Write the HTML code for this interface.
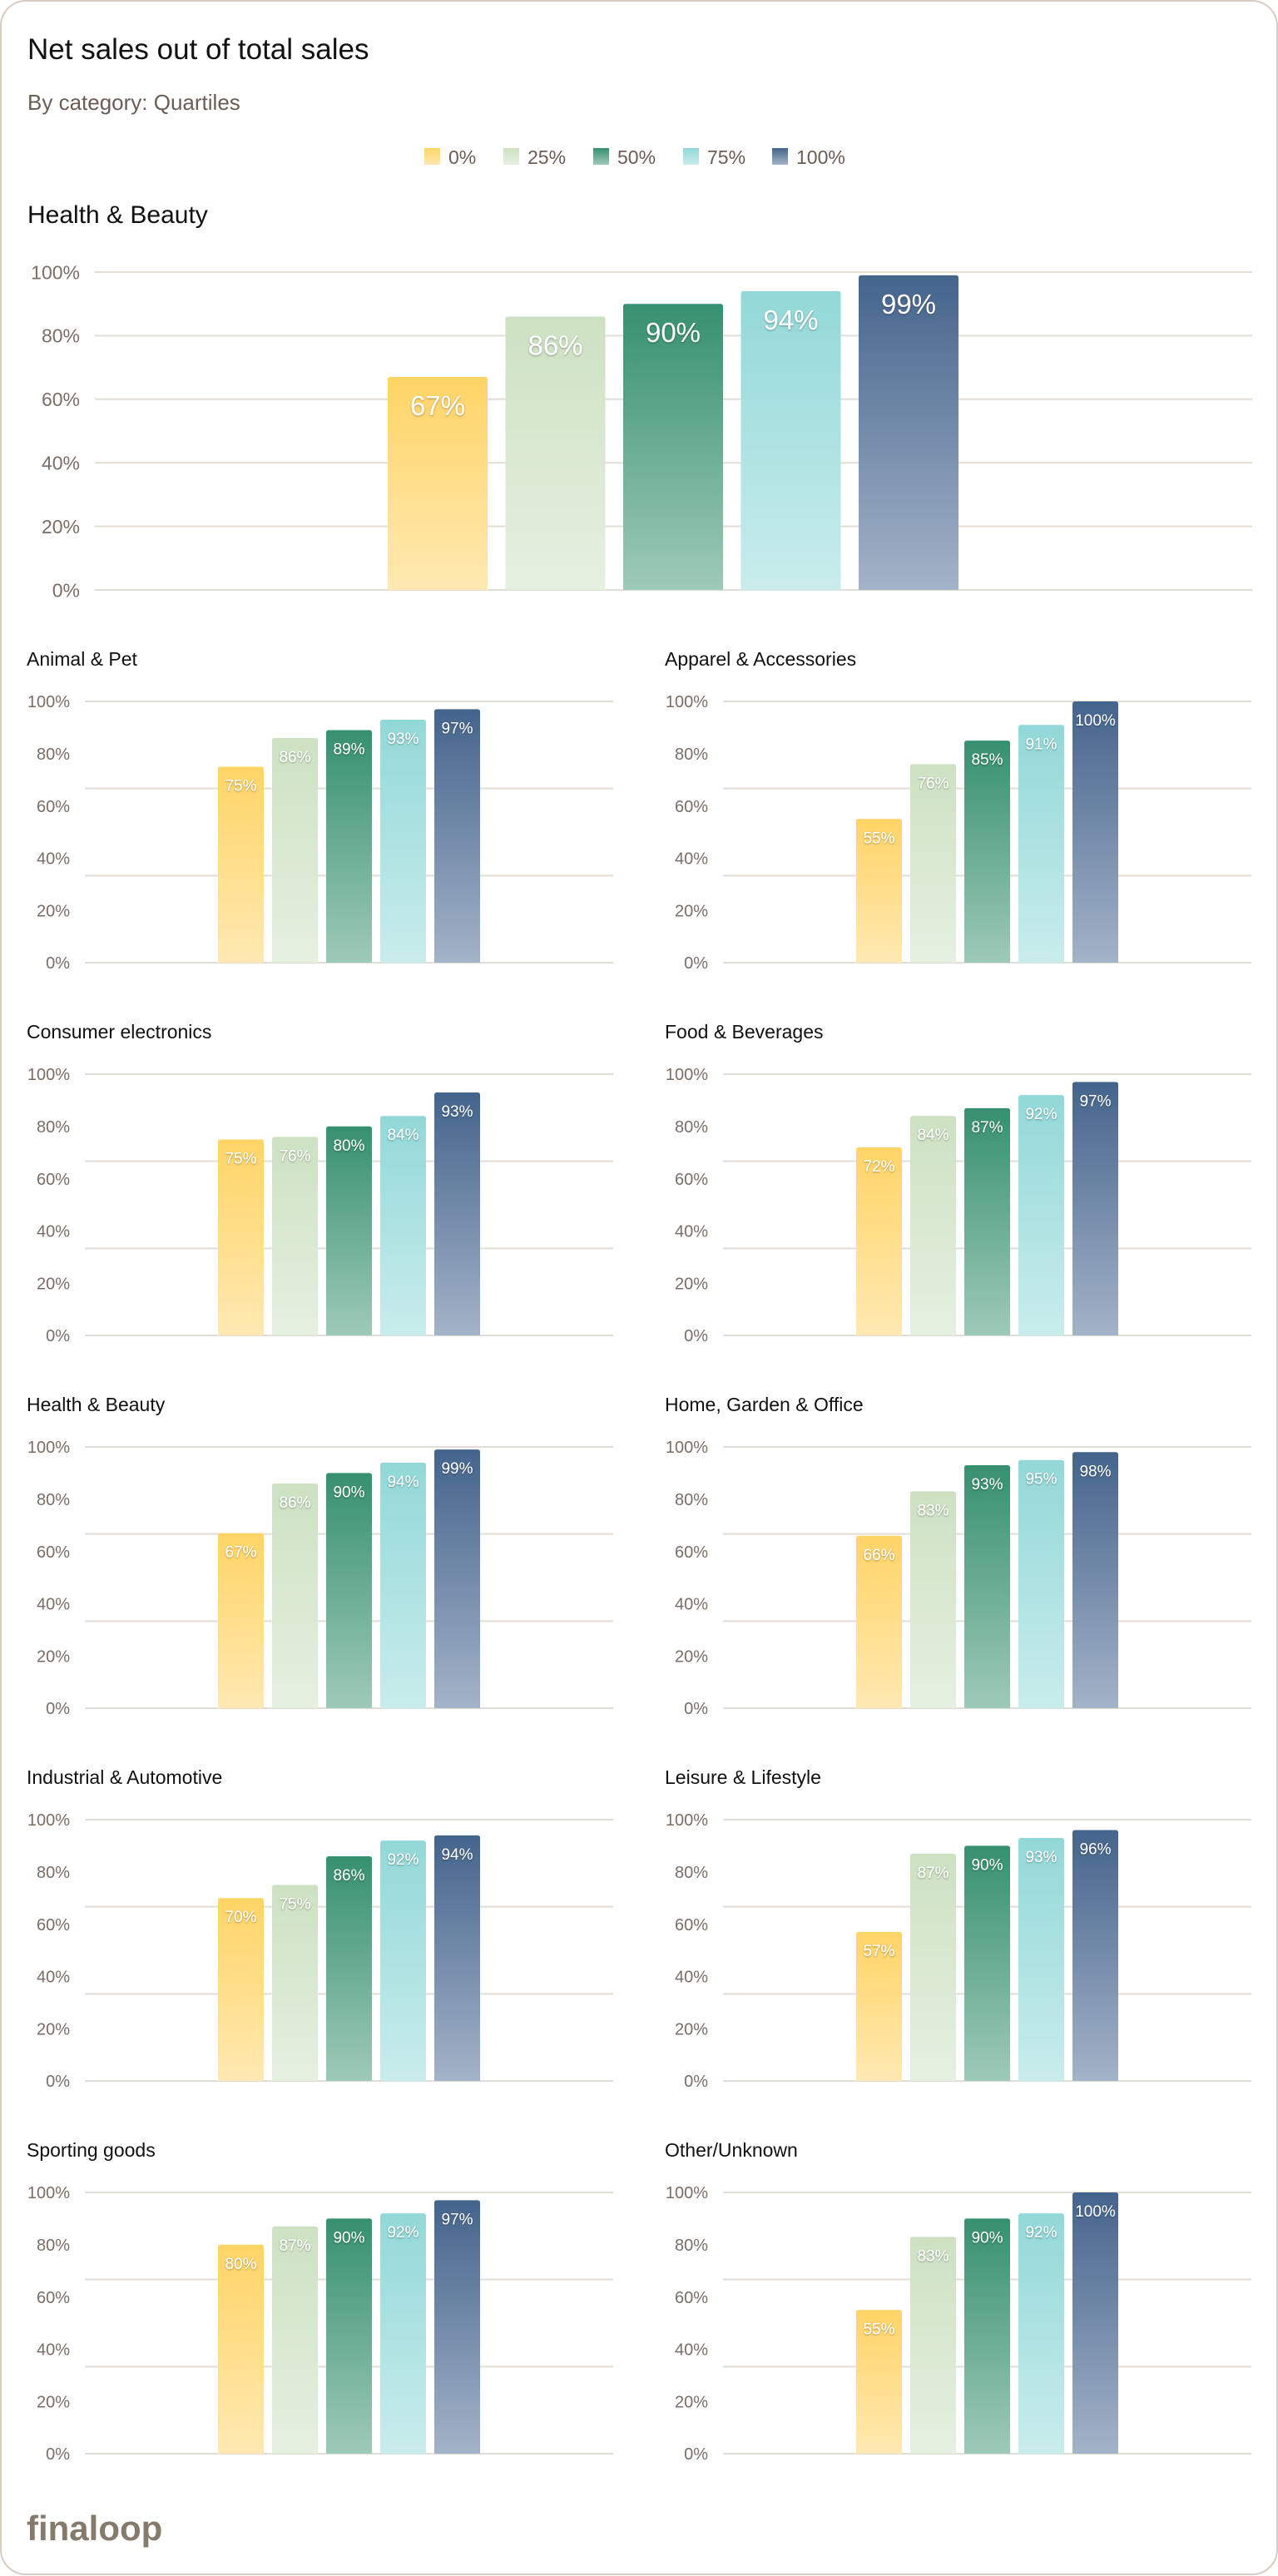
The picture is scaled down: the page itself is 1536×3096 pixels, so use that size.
<!DOCTYPE html>
<html><head><meta charset="utf-8">
<style>
html,body{margin:0;padding:0;background:#fff;}
body{width:1536px;height:3096px;overflow:hidden;font-family:"Liberation Sans",sans-serif;}
svg{display:block}
</style></head>
<body>
<svg id="page" width="1536" height="3096" viewBox="0 0 1536 3096" xmlns="http://www.w3.org/2000/svg">
<defs>
<linearGradient id="g0" x1="0" y1="0" x2="0" y2="1"><stop offset="0" stop-color="#ffd466"/><stop offset="1" stop-color="#ffe9b2"/></linearGradient>
<linearGradient id="g1" x1="0" y1="0" x2="0" y2="1"><stop offset="0" stop-color="#cde1c2"/><stop offset="1" stop-color="#e6f0e1"/></linearGradient>
<linearGradient id="g2" x1="0" y1="0" x2="0" y2="1"><stop offset="0" stop-color="#36906f"/><stop offset="1" stop-color="#9ecab8"/></linearGradient>
<linearGradient id="g3" x1="0" y1="0" x2="0" y2="1"><stop offset="0" stop-color="#92d8d8"/><stop offset="1" stop-color="#c9ecec"/></linearGradient>
<linearGradient id="g4" x1="0" y1="0" x2="0" y2="1"><stop offset="0" stop-color="#44648c"/><stop offset="1" stop-color="#a3b3c8"/></linearGradient>
<filter id="ts" x="-20%" y="-20%" width="140%" height="140%"><feDropShadow dx="0" dy="1" stdDeviation="1" flood-color="#000" flood-opacity="0.35"/></filter>
</defs>
<rect x="1" y="1" width="1534" height="3093" rx="30" fill="#fff" stroke="#d6ccc4" stroke-width="2"/>
<text x="33" y="71" font-size="35" fill="#111">Net sales out of total sales</text>
<text x="33" y="132" font-size="26" fill="#6b5d55">By category: Quartiles</text>
<g id="legend"></g>
<g id="charts"></g>
<text x="32" y="3053" font-size="42" font-weight="bold" fill="#857a6e">finaloop</text>
</svg>
<script>
const series = ["0%","25%","50%","75%","100%"];
const yTicks = [0,20,40,60,80,100];
const categories = ["Animal & Pet","Apparel & Accessories","Consumer electronics","Food & Beverages","Health & Beauty","Home, Garden & Office","Industrial & Automotive","Leisure & Lifestyle","Sporting goods","Other/Unknown"];
const mainValues = [67,86,90,94,99];
const vAnimal = [75,86,89,93,97];
const vApparel = [55,76,85,91,100];
const vConsumer = [75,76,80,84,93];
const vFood = [72,84,87,92,97];
const vHealth = [67,86,90,94,99];
const vHome = [66,83,93,95,98];
const vIndustrial = [70,75,86,92,94];
const vLeisure = [57,87,90,93,96];
const vSporting = [80,87,90,92,97];
const vOther = [55,83,90,92,100];
const catValues = [vAnimal,vApparel,vConsumer,vFood,vHealth,vHome,vIndustrial,vLeisure,vSporting,vOther];

const NS="http://www.w3.org/2000/svg";
function mk(tag,attrs,parent){const e=document.createElementNS(NS,tag);for(const k in attrs)e.setAttribute(k,attrs[k]);parent.appendChild(e);return e;}

// legend
const lg=document.getElementById('legend');
const legX=[510,605,713,821,928];
series.forEach((s,i)=>{
  const g=mk('g',{},lg);
  
  
  const r=mk('rect',{x:legX[i],y:178,width:19,height:20,fill:'url(#g'+i+')'},g);
  
  
  const t=mk('text',{x:legX[i]+29,y:197,'font-size':23,fill:'#6b5d55'},g);
  
  
  t.textContent=s;
});

const root=document.getElementById('charts');
function drawChart(o){
  const g=mk('g',{},root);
  
  
  const t=mk('text',{x:o.titleX,y:o.titleY,'font-size':o.titleSize,fill:'#111'},g);
  
  
  t.textContent=o.title;
  const y=v=>o.y0-(o.y0-o.y100)*v/100;
  // gridlines
  o.grid.forEach(v=>{
    const l=mk('line',{x1:o.gx1,x2:o.gx2,y1:y(v),y2:y(v),stroke:'#e3ddd8','stroke-width':2},g);
    
    
  });
  yTicks.forEach(v=>{
    const tx=mk('text',{x:o.labelX,y:y(v)+o.tickSize*0.36,'font-size':o.tickSize,fill:'#7a6e66','text-anchor':'end'},g);
    
    
    tx.textContent=v+'%';
  });
  o.values.forEach((v,i)=>{
    const bx=o.bx0+i*o.pitch, top=y(v);
    const b=mk('path',{d:`M${bx},${o.y0} V${top+3} Q${bx},${top} ${bx+3},${top} H${bx+o.bw-3} Q${bx+o.bw},${top} ${bx+o.bw},${top+3} V${o.y0} Z`,fill:'url(#g'+i+')'},g);
    
    
    const lb=mk('text',{x:bx+o.bw/2,y:top+o.lblOff,'font-size':o.lblSize,fill:'#fff','text-anchor':'middle',filter:'url(#ts)'},g);
    
    
    lb.textContent=v+'%';
  });
}

drawChart({name:'main-chart-health-beauty',title:'Health & Beauty',titleX:33,titleY:268,titleSize:30,
  y0:709,y100:327,gx1:114,gx2:1505,labelX:96,tickSize:23,grid:[0,20,40,60,80,100],
  values:mainValues,bx0:466,pitch:141.5,bw:120,lblOff:46,lblSize:33});

categories.forEach((c,k)=>{
  const col=k%2,row=Math.floor(k/2);
  const dx=col*767, dy=row*448;
  drawChart({name:'chart-'+c.toLowerCase().replace(/[^a-z]+/g,'-'),title:c,titleX:32+dx,titleY:800+dy,titleSize:23,
    y0:1157+dy,y100:843+dy,gx1:102+dx,gx2:737+dx,labelX:84+dx,tickSize:20,grid:[0,100/3,200/3,100],
    values:catValues[k],bx0:262+dx,pitch:65,bw:55,lblOff:29,lblSize:19});
});
</script>
</body></html>
